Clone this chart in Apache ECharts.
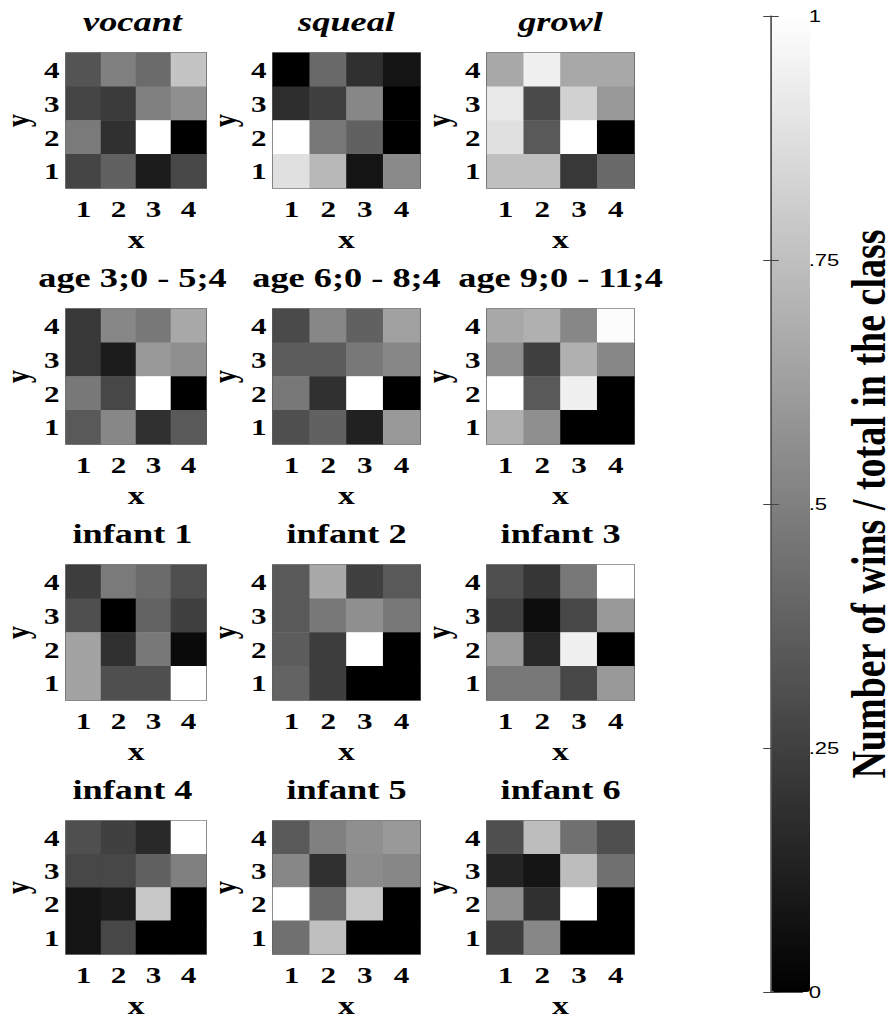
<!DOCTYPE html>
<html>
<head>
<meta charset="utf-8">
<script src="https://cdn.jsdelivr.net/npm/echarts@6/dist/echarts.min.js"></script>
<style>
  html, body { margin: 0; padding: 0; background: #fff; overflow: hidden; }
  #chart { width: 690px; height: 1019px; transform: scaleX(1.2971); transform-origin: 0 0; }
</style>
</head>
<body>
<div id="chart"></div>
<script>
// ---------------- data ----------------
const tickLabels = ['1', '2', '3', '4'];
const panelTitles = ['vocant', 'squeal', 'growl',
  'age 3;0 - 5;4', 'age 6;0 - 8;4', 'age 9;0 - 11;4',
  'infant 1', 'infant 2', 'infant 3',
  'infant 4', 'infant 5', 'infant 6'];

// each matrix: rows from y=4 (top) down to y=1 (bottom); columns x=1..4
const vocant = [[0.33, 0.50, 0.42, 0.77], [0.27, 0.23, 0.50, 0.56], [0.48, 0.19, 1.00, 0.00], [0.27, 0.38, 0.11, 0.28]];
const squeal = [[0.00, 0.41, 0.19, 0.08], [0.18, 0.25, 0.53, 0.00], [1.00, 0.47, 0.38, 0.00], [0.88, 0.72, 0.08, 0.54]];
const growl  = [[0.66, 0.94, 0.66, 0.66], [0.91, 0.29, 0.82, 0.60], [0.88, 0.35, 1.00, 0.00], [0.75, 0.75, 0.22, 0.41]];
const age1   = [[0.22, 0.53, 0.47, 0.66], [0.22, 0.11, 0.60, 0.56], [0.47, 0.28, 1.00, 0.00], [0.35, 0.53, 0.19, 0.35]];
const age2   = [[0.29, 0.53, 0.38, 0.63], [0.36, 0.36, 0.47, 0.53], [0.47, 0.19, 1.00, 0.00], [0.31, 0.38, 0.13, 0.60]];
const age3   = [[0.66, 0.69, 0.53, 0.99], [0.56, 0.25, 0.69, 0.53], [1.00, 0.35, 0.94, 0.00], [0.69, 0.56, 0.00, 0.00]];
const infant1 = [[0.24, 0.48, 0.42, 0.31], [0.31, 0.00, 0.39, 0.25], [0.64, 0.19, 0.47, 0.04], [0.64, 0.31, 0.31, 1.00]];
const infant2 = [[0.35, 0.66, 0.25, 0.35], [0.35, 0.47, 0.56, 0.47], [0.36, 0.24, 1.00, 0.00], [0.39, 0.24, 0.00, 0.00]];
const infant3 = [[0.31, 0.21, 0.47, 1.00], [0.25, 0.05, 0.28, 0.60], [0.60, 0.16, 0.94, 0.00], [0.47, 0.47, 0.28, 0.60]];
const infant4 = [[0.31, 0.25, 0.16, 1.00], [0.28, 0.28, 0.38, 0.50], [0.08, 0.11, 0.78, 0.00], [0.08, 0.28, 0.00, 0.00]];
const infant5 = [[0.35, 0.50, 0.56, 0.60], [0.53, 0.19, 0.55, 0.53], [1.00, 0.41, 0.78, 0.00], [0.44, 0.75, 0.00, 0.00]];
const infant6 = [[0.31, 0.74, 0.44, 0.31], [0.14, 0.08, 0.74, 0.44], [0.56, 0.19, 1.00, 0.00], [0.24, 0.53, 0.00, 0.00]];
const panelData = [vocant, squeal, growl, age1, age2, age3, infant1, infant2, infant3, infant4, infant5, infant6];

const cbTicks = [0, 0.25, 0.5, 0.75, 1];
const cbTickLabels = ['0', '.25', '.5', '.75', '1'];
const cbTitle = 'Number of wins / total in the class';

// ---------------- layout (unscaled frame; page is stretched horizontally) ----------------
const colLeft = [45.5, 210.5, 375.5];
const rowTop = [53, 309, 565, 821];
const panelW = 113.3, panelH = 135;
const titleTop = [7.5, 263.5, 519.5, 775.5];
const cb = { left: 594.4, top: 16, width: 30.1, height: 976 };
const serif = 'Liberation Serif';

const grids = [], xAxes = [], yAxes = [], series = [], titles = [];
panelData.forEach((m, i) => {
  const r = Math.floor(i / 3), c = i % 3;
  grids.push({ left: colLeft[c], top: rowTop[r], width: panelW, height: panelH,
    show: true, borderColor: '#555', borderWidth: 1.5, backgroundColor: 'transparent' });
  const axisCommon = {
    gridIndex: i, type: 'category', data: tickLabels,
    axisLine: { show: false },
    axisTick: { show: true, inside: true, length: 3, alignWithLabel: true, lineStyle: { color: '#333' } },
    splitLine: { show: false }, splitArea: { show: false },
    nameLocation: 'middle',
    nameTextStyle: { fontFamily: serif, fontWeight: 'bold', fontSize: 26, color: '#000' }
  };
  xAxes.push(Object.assign({}, axisCommon, {
    position: 'bottom', name: 'x', nameGap: 38,
    axisLabel: { margin: 9, fontFamily: serif, fontWeight: 'bold', fontSize: 24, color: '#000' }
  }));
  yAxes.push(Object.assign({}, axisCommon, {
    position: 'left', name: 'y', nameGap: 24, nameRotate: 90,
    axisLabel: { margin: 5, fontFamily: serif, fontWeight: 'bold', fontSize: 24, color: '#000' }
  }));
  const data = [];
  m.forEach((row, ri) => row.forEach((v, xi) => data.push([xi, 3 - ri, v])));
  series.push({ type: 'heatmap', xAxisIndex: i, yAxisIndex: i, data: data,
    emphasis: { disabled: true }, progressive: 0, animation: false });
  titles.push({ text: panelTitles[i], left: colLeft[c] + panelW / 2, top: titleTop[r],
    textAlign: 'center', padding: 0,
    textStyle: { fontFamily: serif, fontWeight: 'bold', fontStyle: r === 0 ? 'italic' : 'normal',
      fontSize: 28, lineHeight: 28, color: '#000' } });
});

// colorbar frame + ticks
const cbIdx = panelData.length;
grids.push({ left: cb.left, top: cb.top, width: cb.width, height: cb.height, show: false });
const cbLine = { show: true, lineStyle: { color: '#555', width: 1 } };
xAxes.push({ gridIndex: cbIdx, type: 'value', min: 0, max: 1, position: 'bottom', z: 10,
  axisLine: cbLine, axisTick: { show: false }, axisLabel: { show: false }, splitLine: { show: false } });
xAxes.push({ gridIndex: cbIdx, type: 'value', min: 0, max: 1, position: 'top', z: 10,
  axisLine: cbLine, axisTick: { show: false }, axisLabel: { show: false }, splitLine: { show: false } });
yAxes.push({ gridIndex: cbIdx, type: 'value', min: 0, max: 1, interval: 0.25, position: 'left', z: 10,
  axisLine: cbLine, axisTick: { show: true, inside: true, length: 6, lineStyle: { color: '#444' } },
  axisLabel: { show: false }, splitLine: { show: false } });
yAxes.push({ gridIndex: cbIdx, type: 'value', min: 0, max: 1, interval: 0.25, position: 'right', z: 10,
  axisLine: cbLine, axisTick: { show: true, inside: true, length: 6, lineStyle: { color: '#444' } },
  axisLabel: { margin: 5, fontFamily: 'Liberation Sans', fontSize: 17, color: '#000',
    formatter: v => { const k = cbTicks.indexOf(v); return k >= 0 ? cbTickLabels[k] : ''; } },
  splitLine: { show: false },
  name: cbTitle, nameLocation: 'middle', nameRotate: 90, nameGap: 27,
  nameTextStyle: { fontFamily: serif, fontWeight: 'bold', fontSize: 38, color: '#000' } });

const chart = echarts.init(document.getElementById('chart'), null, { renderer: 'svg' });
chart.setOption({
  backgroundColor: '#fff',
  animation: false,
  title: titles,
  grid: grids,
  xAxis: xAxes,
  yAxis: yAxes,
  visualMap: {
    type: 'continuous', min: 0, max: 1, show: true, calculable: false, hoverLink: false,
    seriesIndex: series.map((s, i) => i),
    inRange: { color: ['#000000', '#ffffff'] },
    orient: 'vertical', left: cb.left, top: cb.top, padding: 0,
    itemWidth: cb.width, itemHeight: cb.height, z: 4
  },
  series: series
});
</script>
</body>
</html>
